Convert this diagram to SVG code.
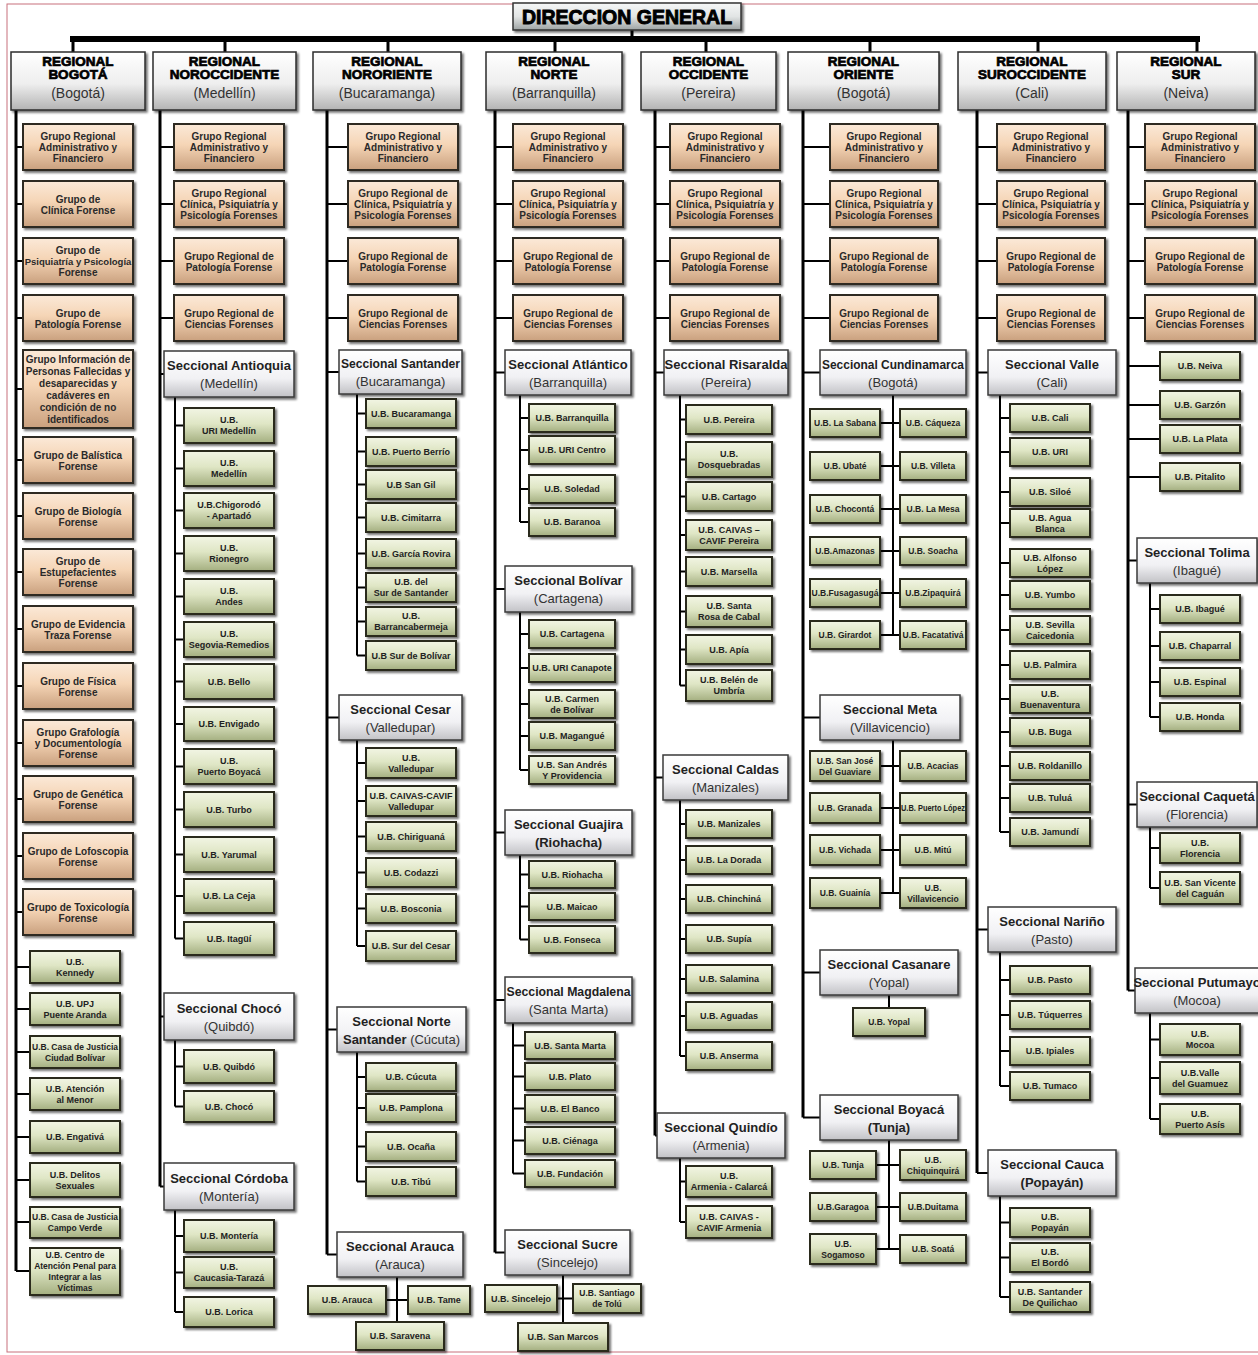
<svg xmlns="http://www.w3.org/2000/svg" width="1258" height="1355" viewBox="0 0 1258 1355">
<defs>
<linearGradient id="gReg" x1="0" y1="0" x2="0" y2="1"><stop offset="0" stop-color="#ffffff"/><stop offset="0.55" stop-color="#eeeeee"/><stop offset="1" stop-color="#b3b3b3"/></linearGradient>
<linearGradient id="gSec" x1="0" y1="0" x2="0" y2="1"><stop offset="0" stop-color="#ffffff"/><stop offset="0.6" stop-color="#f1f1f4"/><stop offset="1" stop-color="#c2c2c6"/></linearGradient>
<linearGradient id="gOr" x1="0" y1="0" x2="0" y2="1"><stop offset="0" stop-color="#fbe9d8"/><stop offset="0.45" stop-color="#f5d5b6"/><stop offset="1" stop-color="#c9a07e"/></linearGradient>
<linearGradient id="gUb" x1="0" y1="0" x2="0" y2="1"><stop offset="0" stop-color="#f2f5e4"/><stop offset="0.45" stop-color="#dfe6c5"/><stop offset="1" stop-color="#a4af80"/></linearGradient>
<linearGradient id="gDg" x1="0" y1="0" x2="0" y2="1"><stop offset="0" stop-color="#f6f7f7"/><stop offset="0.5" stop-color="#e2e5e5"/><stop offset="1" stop-color="#9ea4a4"/></linearGradient>
<filter id="sh" x="-10%" y="-15%" width="130%" height="150%"><feDropShadow dx="2" dy="2" stdDeviation="1" flood-color="#000" flood-opacity="0.55"/></filter>
<style>
.ln{stroke:#000;fill:none;stroke-width:2}
.tk{stroke:#000;fill:none;stroke-width:3}
.bar{stroke:#000;fill:none;stroke-width:6}
.reg{fill:url(#gReg);stroke:#2b2b2b;stroke-width:1.5;filter:url(#sh)}
.sec{fill:url(#gSec);stroke:#3a3a3a;stroke-width:1.5;filter:url(#sh)}
.or{fill:url(#gOr);stroke:#2e2a22;stroke-width:2;filter:url(#sh)}
.ub{fill:url(#gUb);stroke:#2a2c1e;stroke-width:2;filter:url(#sh)}
.dg{fill:url(#gDg);stroke:#333;stroke-width:1.5;filter:url(#sh)}
text{font-family:"Liberation Sans",Arial,sans-serif;text-anchor:middle;dominant-baseline:central}
.to{font-size:10px;font-weight:bold;fill:#2a2a2a}
.tu{font-size:9px;font-weight:bold;fill:#222}
.sm{font-size:8.5px}
.ts{font-size:13px;font-weight:bold;fill:#222}
.tc{font-weight:normal;fill:#333}
.tr{font-size:13.5px;font-weight:bold;fill:#000;stroke:#000;stroke-width:0.7}
.trc{font-size:14px;fill:#333}
.tdg{font-size:19.5px;font-weight:bold;fill:#000;stroke:#000;stroke-width:0.9}
</style>
</defs>
<rect x="0" y="0" width="1258" height="1355" fill="#ffffff"/>
<rect x="7" y="4" width="1262" height="1348" fill="none" stroke="#c8707c" stroke-width="1"/>

<g id="connectors">
<path class="bar" d="M70 39H1200"/>
<path class="tk" d="M632 30V39 M73 39V52 M225 39V52 M388 39V52 M555 39V52 M706 39V52 M870 39V52 M1038 39V52 M1197 39V52"/>
<!-- Bogota -->
<path class="tk" d="M16 110V1271"/>
<path class="ln" d="M16 147H23 M16 204H23 M16 261H23 M16 318H23 M16 389H23 M16 460H23 M16 516H23 M16 572H23 M16 629H23 M16 686H23 M16 743H23 M16 799H23 M16 856H23 M16 912H23 M16 967H30 M16 1009H30 M16 1052H30 M16 1094H30 M16 1137H30 M16 1180H30 M16 1222H30 M16 1271H30"/>
<!-- Noroccidente -->
<path class="tk" d="M160 110V1186.5"/>
<path class="ln" d="M160 147H174 M160 204H174 M160 261H174 M160 318H174 M160 374H164 M160 1016.5H164 M160 1186.5H164"/>
<path class="ln" d="M175 397V938.5 M175 425.5H184 M175 468.5H184 M175 510.5H184 M175 553.5H184 M175 596.5H184 M175 639.5H184 M175 681.5H184 M175 724H184 M175 766.5H184 M175 809.5H184 M175 854.5H184 M175 896H184 M175 938.5H184"/>
<path class="ln" d="M175 1040V1106.5 M175 1066.5H184 M175 1106.5H184 M175 1210V1312 M175 1236H184 M175 1272.5H184 M175 1312H184"/>
<!-- Nororiente -->
<path class="tk" d="M327 110V1254.5"/>
<path class="ln" d="M327 147H348 M327 204H348 M327 261H348 M327 318H348 M327 372H339 M327 717.5H339 M327 1029.5H337 M327 1254.5H337"/>
<path class="ln" d="M357 394V655.5 M357 413.5H366 M357 451.5H366 M357 484.5H366 M357 517.5H366 M357 553.5H366 M357 587.5H366 M357 621.5H366 M357 655.5H366"/>
<path class="ln" d="M357 740V946 M357 763H366 M357 801H366 M357 836.5H366 M357 872.5H366 M357 908.5H366 M357 946H366"/>
<path class="ln" d="M357 1052V1181.5 M357 1077H366 M357 1108H366 M357 1146.5H366 M357 1181.5H366"/>
<path class="ln" d="M397 1277V1322 M386 1300H408"/>
<!-- Norte -->
<path class="tk" d="M495 110V1252.5"/>
<path class="ln" d="M495 147H513 M495 204H513 M495 261H513 M495 318H513 M495 372.5H505 M495 589H505 M495 832.5H505 M495 1000H505 M495 1252.5H505"/>
<path class="ln" d="M520 395V522 M520 418H529 M520 450H529 M520 489H529 M520 522H529"/>
<path class="ln" d="M520 612V770 M520 634H529 M520 668H529 M520 704H529 M520 736H529 M520 770H529"/>
<path class="ln" d="M520 855V939.5 M520 874.5H529 M520 906.5H529 M520 939.5H529"/>
<path class="ln" d="M513 1023V1173.5 M513 1045.5H525 M513 1076.5H525 M513 1108.5H525 M513 1140.5H525 M513 1173.5H525"/>
<path class="ln" d="M563 1275V1323 M557 1298.5H573"/>
<!-- Occidente -->
<path class="tk" d="M655 110V1135.5"/>
<path class="ln" d="M655 147H670 M655 204H670 M655 261H670 M655 318H670 M655 372.5H664 M655 777.5H663 M655 1135.5H657"/>
<path class="ln" d="M680 395V685.5 M680 419.5H686 M680 459.5H686 M680 496.5H686 M680 535H686 M680 571.5H686 M680 611.5H686 M680 649.5H686 M680 685.5H686"/>
<path class="ln" d="M680 800V1056 M680 824H686 M680 860H686 M680 899H686 M680 939H686 M680 979H686 M680 1016H686 M680 1056H686"/>
<path class="ln" d="M680 1158V1222 M680 1181.5H686 M680 1222H686"/>
<!-- Oriente -->
<path class="tk" d="M803 110V1117.5"/>
<path class="ln" d="M803 147H830 M803 204H830 M803 261H830 M803 318H830 M803 372.5H820 M803 717.5H820 M803 972.5H820 M803 1117.5H820"/>
<path class="ln" d="M893 395V635 M880 423H900 M880 466H900 M880 509H900 M880 551H900 M880 593H900 M880 635H900"/>
<path class="ln" d="M893 740V893 M880 766H900 M880 808H900 M880 850H900 M880 893H900"/>
<path class="ln" d="M889 995V1008"/>
<path class="ln" d="M889 1140V1249 M876 1165H900 M876 1207H900 M876 1249H900"/>
<!-- Suroccidente -->
<path class="tk" d="M977 110V1173"/>
<path class="ln" d="M977 147H997 M977 204H997 M977 261H997 M977 318H997 M977 372.5H988 M977 929.5H988 M977 1173H988"/>
<path class="ln" d="M1000 395V832 M1000 418H1010 M1000 452H1010 M1000 492H1010 M1000 523H1010 M1000 563H1010 M1000 595H1010 M1000 630H1010 M1000 665H1010 M1000 699H1010 M1000 732H1010 M1000 766H1010 M1000 798H1010 M1000 832H1010"/>
<path class="ln" d="M1000 952V1086 M1000 980H1010 M1000 1015H1010 M1000 1051H1010 M1000 1086H1010"/>
<path class="ln" d="M1000 1196V1297 M1000 1222.5H1010 M1000 1257.5H1010 M1000 1297H1010"/>
<!-- Sur -->
<path class="tk" d="M1128 110V990.5"/>
<path class="ln" d="M1128 147H1145 M1128 204H1145 M1128 261H1145 M1128 318H1145 M1128 366H1160 M1128 405H1160 M1128 439H1160 M1128 477H1160 M1128 560.5H1137 M1128 804.5H1137 M1128 990.5H1137"/>
<path class="ln" d="M1150 583V717 M1150 609H1160 M1150 646H1160 M1150 682H1160 M1150 717H1160"/>
<path class="ln" d="M1150 827V888 M1150 848H1160 M1150 888H1160"/>
<path class="ln" d="M1150 1013V1119 M1150 1039.5H1160 M1150 1078H1160 M1150 1119H1160"/>
</g>

<g id="n-dg"><rect class="dg" x="513" y="3" width="228" height="27"/><text class="tdg" x="627" y="17">DIRECCION GENERAL</text></g>

<g id="n-r-bog"><rect class="reg" x="11" y="52" width="134" height="58"/><text class="tr"><tspan x="78" y="61">REGIONAL</tspan><tspan x="78" y="74">BOGOTÁ</tspan></text><text class="trc" x="78" y="93">(Bogotá)</text></g>
<g id="n-r-noc"><rect class="reg" x="153" y="52" width="143" height="58"/><text class="tr"><tspan x="224.5" y="61">REGIONAL</tspan><tspan x="224.5" y="74">NOROCCIDENTE</tspan></text><text class="trc" x="224.5" y="93">(Medellín)</text></g>
<g id="n-r-nor"><rect class="reg" x="313" y="52" width="148" height="58"/><text class="tr"><tspan x="387" y="61">REGIONAL</tspan><tspan x="387" y="74">NORORIENTE</tspan></text><text class="trc" x="387" y="93">(Bucaramanga)</text></g>
<g id="n-r-nte"><rect class="reg" x="486" y="52" width="136" height="58"/><text class="tr"><tspan x="554" y="61">REGIONAL</tspan><tspan x="554" y="74">NORTE</tspan></text><text class="trc" x="554" y="93">(Barranquilla)</text></g>
<g id="n-r-occ"><rect class="reg" x="641" y="52" width="135" height="58"/><text class="tr"><tspan x="708.5" y="61">REGIONAL</tspan><tspan x="708.5" y="74">OCCIDENTE</tspan></text><text class="trc" x="708.5" y="93">(Pereira)</text></g>
<g id="n-r-ori"><rect class="reg" x="788" y="52" width="151" height="58"/><text class="tr"><tspan x="863.5" y="61">REGIONAL</tspan><tspan x="863.5" y="74">ORIENTE</tspan></text><text class="trc" x="863.5" y="93">(Bogotá)</text></g>
<g id="n-r-soc"><rect class="reg" x="958" y="52" width="148" height="58"/><text class="tr"><tspan x="1032" y="61">REGIONAL</tspan><tspan x="1032" y="74">SUROCCIDENTE</tspan></text><text class="trc" x="1032" y="93">(Cali)</text></g>
<g id="n-r-sur"><rect class="reg" x="1117" y="52" width="138" height="58"/><text class="tr"><tspan x="1186" y="61">REGIONAL</tspan><tspan x="1186" y="74">SUR</tspan></text><text class="trc" x="1186" y="93">(Neiva)</text></g>

<!-- Bogota groups -->
<g id="bog-g1"><rect class="or" x="23" y="124" width="110" height="46"/><text class="to"><tspan x="78" y="136">Grupo Regional</tspan><tspan x="78" y="147">Administrativo y</tspan><tspan x="78" y="158">Financiero</tspan></text></g>
<g id="bog-g2"><rect class="or" x="23" y="181" width="110" height="46"/><text class="to"><tspan x="78" y="198.5">Grupo de</tspan><tspan x="78" y="209.5">Clínica Forense</tspan></text></g>
<g id="bog-g3"><rect class="or" x="23" y="238" width="110" height="46"/><text class="to"><tspan x="78" y="250">Grupo de</tspan><tspan x="78" y="261" font-size="9.5">Psiquiatría y Psicología</tspan><tspan x="78" y="272">Forense</tspan></text></g>
<g id="bog-g4"><rect class="or" x="23" y="295" width="110" height="46"/><text class="to"><tspan x="78" y="312.5">Grupo de</tspan><tspan x="78" y="323.5">Patología Forense</tspan></text></g>
<g id="bog-g5"><rect class="or" x="23" y="350" width="110" height="78"/><text class="to" font-size="10.5"><tspan x="78" y="359">Grupo Información de</tspan><tspan x="78" y="371">Personas Fallecidas y</tspan><tspan x="78" y="383">desaparecidas y</tspan><tspan x="78" y="395">cadáveres en</tspan><tspan x="78" y="407">condición de no</tspan><tspan x="78" y="419">identificados</tspan></text></g>
<g id="bog-g6"><rect class="or" x="23" y="437" width="110" height="46"/><text class="to"><tspan x="78" y="454.5">Grupo de Balística</tspan><tspan x="78" y="465.5">Forense</tspan></text></g>
<g id="bog-g7"><rect class="or" x="23" y="493" width="110" height="46"/><text class="to"><tspan x="78" y="510.5">Grupo de Biología</tspan><tspan x="78" y="521.5">Forense</tspan></text></g>
<g id="bog-g8"><rect class="or" x="23" y="549" width="110" height="46"/><text class="to"><tspan x="78" y="561">Grupo de</tspan><tspan x="78" y="572">Estupefacientes</tspan><tspan x="78" y="583">Forense</tspan></text></g>
<g id="bog-g9"><rect class="or" x="23" y="606" width="110" height="46"/><text class="to"><tspan x="78" y="623.5">Grupo de Evidencia</tspan><tspan x="78" y="634.5">Traza Forense</tspan></text></g>
<g id="bog-g10"><rect class="or" x="23" y="663" width="110" height="46"/><text class="to"><tspan x="78" y="680.5">Grupo de Física</tspan><tspan x="78" y="691.5">Forense</tspan></text></g>
<g id="bog-g11"><rect class="or" x="23" y="720" width="110" height="46"/><text class="to"><tspan x="78" y="732">Grupo Grafología</tspan><tspan x="78" y="743">y Documentología</tspan><tspan x="78" y="754">Forense</tspan></text></g>
<g id="bog-g12"><rect class="or" x="23" y="776" width="110" height="46"/><text class="to"><tspan x="78" y="793.5">Grupo de Genética</tspan><tspan x="78" y="804.5">Forense</tspan></text></g>
<g id="bog-g13"><rect class="or" x="23" y="833" width="110" height="46"/><text class="to"><tspan x="78" y="850.5">Grupo de Lofoscopia</tspan><tspan x="78" y="861.5">Forense</tspan></text></g>
<g id="bog-g14"><rect class="or" x="23" y="889" width="110" height="46"/><text class="to"><tspan x="78" y="906.5">Grupo de Toxicología</tspan><tspan x="78" y="917.5">Forense</tspan></text></g>
<g id="bog-u1"><rect class="ub" x="30" y="951" width="90" height="32"/><text class="tu"><tspan x="75" y="961.5">U.B.</tspan><tspan x="75" y="972.5">Kennedy</tspan></text></g>
<g id="bog-u2"><rect class="ub" x="30" y="993" width="90" height="32"/><text class="tu"><tspan x="75" y="1003.5">U.B. UPJ</tspan><tspan x="75" y="1014.5">Puente Aranda</tspan></text></g>
<g id="bog-u3"><rect class="ub" x="30" y="1036" width="90" height="32"/><text class="tu sm"><tspan x="75" y="1046.5">U.B. Casa de Justicia</tspan><tspan x="75" y="1057.5">Ciudad Bolívar</tspan></text></g>
<g id="bog-u4"><rect class="ub" x="30" y="1078" width="90" height="32"/><text class="tu"><tspan x="75" y="1088.5">U.B. Atención</tspan><tspan x="75" y="1099.5">al Menor</tspan></text></g>
<g id="bog-u5"><rect class="ub" x="30" y="1121" width="90" height="32"/><text class="tu" x="75" y="1137">U.B. Engativá</text></g>
<g id="bog-u6"><rect class="ub" x="30" y="1163" width="90" height="34"/><text class="tu"><tspan x="75" y="1174.5">U.B. Delitos</tspan><tspan x="75" y="1185.5">Sexuales</tspan></text></g>
<g id="bog-u7"><rect class="ub" x="30" y="1207" width="90" height="31"/><text class="tu sm"><tspan x="75" y="1217">U.B. Casa de Justicia</tspan><tspan x="75" y="1228">Campo Verde</tspan></text></g>
<g id="bog-u8"><rect class="ub" x="30" y="1248" width="90" height="47"/><text class="tu sm"><tspan x="75" y="1255">U.B. Centro de</tspan><tspan x="75" y="1266">Atención Penal para</tspan><tspan x="75" y="1277">Integrar a las</tspan><tspan x="75" y="1288">Víctimas</tspan></text></g>

<!-- Noroccidente -->
<g id="noc-g1"><rect class="or" x="174" y="124" width="110" height="46"/><text class="to"><tspan x="229" y="136">Grupo Regional</tspan><tspan x="229" y="147">Administrativo y</tspan><tspan x="229" y="158">Financiero</tspan></text></g>
<g id="noc-g2"><rect class="or" x="174" y="181" width="110" height="46"/><text class="to"><tspan x="229" y="193">Grupo Regional</tspan><tspan x="229" y="204">Clínica, Psiquiatría y</tspan><tspan x="229" y="215">Psicología Forenses</tspan></text></g>
<g id="noc-g3"><rect class="or" x="174" y="238" width="110" height="46"/><text class="to"><tspan x="229" y="255.5">Grupo Regional de</tspan><tspan x="229" y="266.5">Patología Forense</tspan></text></g>
<g id="noc-g4"><rect class="or" x="174" y="295" width="110" height="46"/><text class="to"><tspan x="229" y="312.5">Grupo Regional de</tspan><tspan x="229" y="323.5">Ciencias Forenses</tspan></text></g>
<g id="noc-s1"><rect class="sec" x="164" y="351" width="130" height="46"/><text class="ts"><tspan x="229" y="365">Seccional Antioquia</tspan><tspan class="tc" x="229" y="383">(Medellín)</tspan></text></g>
<g id="noc-u1"><rect class="ub" x="184" y="408" width="90" height="35"/><text class="tu"><tspan x="229" y="420">U.B.</tspan><tspan x="229" y="431">URI Medellín</tspan></text></g>
<g id="noc-u2"><rect class="ub" x="184" y="451" width="90" height="35"/><text class="tu"><tspan x="229" y="463">U.B.</tspan><tspan x="229" y="474">Medellín</tspan></text></g>
<g id="noc-u3"><rect class="ub" x="184" y="493" width="90" height="35"/><text class="tu"><tspan x="229" y="505">U.B.Chigorodó</tspan><tspan x="229" y="516">- Apartadó</tspan></text></g>
<g id="noc-u4"><rect class="ub" x="184" y="536" width="90" height="35"/><text class="tu"><tspan x="229" y="548">U.B.</tspan><tspan x="229" y="559">Rionegro</tspan></text></g>
<g id="noc-u5"><rect class="ub" x="184" y="579" width="90" height="35"/><text class="tu"><tspan x="229" y="591">U.B.</tspan><tspan x="229" y="602">Andes</tspan></text></g>
<g id="noc-u6"><rect class="ub" x="184" y="622" width="90" height="35"/><text class="tu"><tspan x="229" y="634">U.B.</tspan><tspan x="229" y="645">Segovia-Remedios</tspan></text></g>
<g id="noc-u7"><rect class="ub" x="184" y="664" width="90" height="35"/><text class="tu" x="229" y="681.5">U.B. Bello</text></g>
<g id="noc-u8"><rect class="ub" x="184" y="707" width="90" height="34"/><text class="tu" x="229" y="724">U.B. Envigado</text></g>
<g id="noc-u9"><rect class="ub" x="184" y="749" width="90" height="35"/><text class="tu"><tspan x="229" y="761">U.B.</tspan><tspan x="229" y="772">Puerto Boyacá</tspan></text></g>
<g id="noc-u10"><rect class="ub" x="184" y="792" width="90" height="35"/><text class="tu" x="229" y="809.5">U.B. Turbo</text></g>
<g id="noc-u11"><rect class="ub" x="184" y="837" width="90" height="35"/><text class="tu" x="229" y="854.5">U.B. Yarumal</text></g>
<g id="noc-u12"><rect class="ub" x="184" y="879" width="90" height="34"/><text class="tu" x="229" y="896">U.B. La Ceja</text></g>
<g id="noc-u13"><rect class="ub" x="184" y="922" width="90" height="33"/><text class="tu" x="229" y="938.5">U.B. Itagüí</text></g>
<g id="noc-s2"><rect class="sec" x="164" y="993" width="130" height="47"/><text class="ts"><tspan x="229" y="1007.5">Seccional Chocó</tspan><tspan class="tc" x="229" y="1025.5">(Quibdó)</tspan></text></g>
<g id="noc-u14"><rect class="ub" x="184" y="1050" width="90" height="33"/><text class="tu" x="229" y="1066.5">U.B. Quibdó</text></g>
<g id="noc-u15"><rect class="ub" x="184" y="1091" width="90" height="31"/><text class="tu" x="229" y="1106.5">U.B. Chocó</text></g>
<g id="noc-s3"><rect class="sec" x="164" y="1163" width="130" height="47"/><text class="ts"><tspan x="229" y="1177.5">Seccional Córdoba</tspan><tspan class="tc" x="229" y="1195.5">(Montería)</tspan></text></g>
<g id="noc-u16"><rect class="ub" x="184" y="1220" width="90" height="32"/><text class="tu" x="229" y="1236">U.B. Montería</text></g>
<g id="noc-u17"><rect class="ub" x="184" y="1257" width="90" height="31"/><text class="tu"><tspan x="229" y="1267">U.B.</tspan><tspan x="229" y="1278">Caucasia-Tarazá</tspan></text></g>
<g id="noc-u18"><rect class="ub" x="184" y="1297" width="90" height="30"/><text class="tu" x="229" y="1312">U.B. Lorica</text></g>

<!-- Nororiente -->
<g id="nor-g1"><rect class="or" x="348" y="124" width="110" height="46"/><text class="to"><tspan x="403" y="136">Grupo Regional</tspan><tspan x="403" y="147">Administrativo y</tspan><tspan x="403" y="158">Financiero</tspan></text></g>
<g id="nor-g2"><rect class="or" x="348" y="181" width="110" height="46"/><text class="to"><tspan x="403" y="193">Grupo Regional de</tspan><tspan x="403" y="204">Clínica, Psiquiatría y</tspan><tspan x="403" y="215">Psicología Forenses</tspan></text></g>
<g id="nor-g3"><rect class="or" x="348" y="238" width="110" height="46"/><text class="to"><tspan x="403" y="255.5">Grupo Regional de</tspan><tspan x="403" y="266.5">Patología Forense</tspan></text></g>
<g id="nor-g4"><rect class="or" x="348" y="295" width="110" height="46"/><text class="to"><tspan x="403" y="312.5">Grupo Regional de</tspan><tspan x="403" y="323.5">Ciencias Forenses</tspan></text></g>
<g id="nor-s1"><rect class="sec" x="339" y="350" width="123" height="44"/><text class="ts"><tspan x="400.5" y="363" textLength="119" lengthAdjust="spacingAndGlyphs">Seccional Santander</tspan><tspan class="tc" x="400.5" y="381">(Bucaramanga)</tspan></text></g>
<g id="nor-u1"><rect class="ub" x="366" y="399" width="90" height="29"/><text class="tu" x="411" y="413.5">U.B. Bucaramanga</text></g>
<g id="nor-u2"><rect class="ub" x="366" y="437" width="90" height="29"/><text class="tu" x="411" y="451.5">U.B. Puerto Berrío</text></g>
<g id="nor-u3"><rect class="ub" x="366" y="470" width="90" height="29"/><text class="tu" x="411" y="484.5">U.B San Gil</text></g>
<g id="nor-u4"><rect class="ub" x="366" y="503" width="90" height="29"/><text class="tu" x="411" y="517.5">U.B. Cimitarra</text></g>
<g id="nor-u5"><rect class="ub" x="366" y="539" width="90" height="29"/><text class="tu" x="411" y="553.5">U.B. García Rovira</text></g>
<g id="nor-u6"><rect class="ub" x="366" y="573" width="90" height="29"/><text class="tu"><tspan x="411" y="582">U.B. del</tspan><tspan x="411" y="593">Sur de Santander</tspan></text></g>
<g id="nor-u7"><rect class="ub" x="366" y="607" width="90" height="29"/><text class="tu"><tspan x="411" y="616">U.B.</tspan><tspan x="411" y="627">Barrancabermeja</tspan></text></g>
<g id="nor-u8"><rect class="ub" x="366" y="641" width="90" height="29"/><text class="tu" x="411" y="655.5">U.B Sur de Bolívar</text></g>
<g id="nor-s2"><rect class="sec" x="339" y="695" width="123" height="45"/><text class="ts"><tspan x="400.5" y="708.5">Seccional Cesar</tspan><tspan class="tc" x="400.5" y="726.5">(Valledupar)</tspan></text></g>
<g id="nor-u9"><rect class="ub" x="366" y="748" width="90" height="30"/><text class="tu"><tspan x="411" y="757.5">U.B.</tspan><tspan x="411" y="768.5">Valledupar</tspan></text></g>
<g id="nor-u10"><rect class="ub" x="366" y="786" width="90" height="30"/><text class="tu"><tspan x="411" y="795.5">U.B. CAIVAS-CAVIF</tspan><tspan x="411" y="806.5">Valledupar</tspan></text></g>
<g id="nor-u11"><rect class="ub" x="366" y="822" width="90" height="29"/><text class="tu" x="411" y="836.5">U.B. Chiriguaná</text></g>
<g id="nor-u12"><rect class="ub" x="366" y="858" width="90" height="29"/><text class="tu" x="411" y="872.5">U.B. Codazzi</text></g>
<g id="nor-u13"><rect class="ub" x="366" y="894" width="90" height="29"/><text class="tu" x="411" y="908.5">U.B. Bosconia</text></g>
<g id="nor-u14"><rect class="ub" x="366" y="931" width="90" height="30"/><text class="tu" x="411" y="946">U.B. Sur del Cesar</text></g>
<g id="nor-s3"><rect class="sec" x="337" y="1007" width="129" height="45"/><text class="ts"><tspan x="401.5" y="1020.5">Seccional Norte</tspan><tspan x="401.5" y="1038.5">Santander <tspan class="tc">(Cúcuta)</tspan></tspan></text></g>
<g id="nor-u15"><rect class="ub" x="366" y="1063" width="90" height="28"/><text class="tu" x="411" y="1077">U.B. Cúcuta</text></g>
<g id="nor-u16"><rect class="ub" x="366" y="1094" width="90" height="28"/><text class="tu" x="411" y="1108">U.B. Pamplona</text></g>
<g id="nor-u17"><rect class="ub" x="366" y="1132" width="90" height="29"/><text class="tu" x="411" y="1146.5">U.B. Ocaña</text></g>
<g id="nor-u18"><rect class="ub" x="366" y="1167" width="90" height="29"/><text class="tu" x="411" y="1181.5">U.B. Tibú</text></g>
<g id="nor-s4"><rect class="sec" x="337" y="1232" width="126" height="45"/><text class="ts"><tspan x="400" y="1245.5">Seccional Arauca</tspan><tspan class="tc" x="400" y="1263.5">(Arauca)</tspan></text></g>
<g id="nor-u19"><rect class="ub" x="308" y="1286" width="78" height="28"/><text class="tu" x="347" y="1300">U.B. Arauca</text></g>
<g id="nor-u20"><rect class="ub" x="408" y="1286" width="62" height="28"/><text class="tu" x="439" y="1300">U.B. Tame</text></g>
<g id="nor-u21"><rect class="ub" x="356" y="1322" width="88" height="28"/><text class="tu" x="400" y="1336">U.B. Saravena</text></g>

<!-- Norte -->
<g id="nte-g1"><rect class="or" x="513" y="124" width="110" height="46"/><text class="to"><tspan x="568" y="136">Grupo Regional</tspan><tspan x="568" y="147">Administrativo y</tspan><tspan x="568" y="158">Financiero</tspan></text></g>
<g id="nte-g2"><rect class="or" x="513" y="181" width="110" height="46"/><text class="to"><tspan x="568" y="193">Grupo Regional</tspan><tspan x="568" y="204">Clínica, Psiquiatría y</tspan><tspan x="568" y="215">Psicología Forenses</tspan></text></g>
<g id="nte-g3"><rect class="or" x="513" y="238" width="110" height="46"/><text class="to"><tspan x="568" y="255.5">Grupo Regional de</tspan><tspan x="568" y="266.5">Patología Forense</tspan></text></g>
<g id="nte-g4"><rect class="or" x="513" y="295" width="110" height="46"/><text class="to"><tspan x="568" y="312.5">Grupo Regional de</tspan><tspan x="568" y="323.5">Ciencias Forenses</tspan></text></g>
<g id="nte-s1"><rect class="sec" x="505" y="350" width="126" height="45"/><text class="ts"><tspan x="568" y="363.5">Seccional Atlántico</tspan><tspan class="tc" x="568" y="381.5">(Barranquilla)</tspan></text></g>
<g id="nte-u1"><rect class="ub" x="529" y="404" width="86" height="28"/><text class="tu" x="572" y="418">U.B. Barranquilla</text></g>
<g id="nte-u2"><rect class="ub" x="529" y="436" width="86" height="28"/><text class="tu" x="572" y="450">U.B. URI Centro</text></g>
<g id="nte-u3"><rect class="ub" x="529" y="475" width="86" height="28"/><text class="tu" x="572" y="489">U.B. Soledad</text></g>
<g id="nte-u4"><rect class="ub" x="529" y="508" width="86" height="28"/><text class="tu" x="572" y="522">U.B. Baranoa</text></g>
<g id="nte-s2"><rect class="sec" x="505" y="566" width="127" height="46"/><text class="ts"><tspan x="568.5" y="580">Seccional Bolívar</tspan><tspan class="tc" x="568.5" y="598">(Cartagena)</tspan></text></g>
<g id="nte-u5"><rect class="ub" x="529" y="620" width="86" height="28"/><text class="tu" x="572" y="634">U.B. Cartagena</text></g>
<g id="nte-u6"><rect class="ub" x="529" y="654" width="86" height="28"/><text class="tu" x="572" y="668">U.B. URI Canapote</text></g>
<g id="nte-u7"><rect class="ub" x="529" y="690" width="86" height="28"/><text class="tu"><tspan x="572" y="698.5">U.B. Carmen</tspan><tspan x="572" y="709.5">de Bolívar</tspan></text></g>
<g id="nte-u8"><rect class="ub" x="529" y="722" width="86" height="28"/><text class="tu" x="572" y="736">U.B. Magangué</text></g>
<g id="nte-u9"><rect class="ub" x="529" y="756" width="86" height="28"/><text class="tu"><tspan x="572" y="764.5">U.B. San Andrés</tspan><tspan x="572" y="775.5">Y Providencia</tspan></text></g>
<g id="nte-s3"><rect class="sec" x="505" y="810" width="127" height="45"/><text class="ts"><tspan x="568.5" y="823.5">Seccional Guajira</tspan><tspan x="568.5" y="841.5">(Riohacha)</tspan></text></g>
<g id="nte-u10"><rect class="ub" x="529" y="861" width="86" height="27"/><text class="tu" x="572" y="874.5">U.B. Riohacha</text></g>
<g id="nte-u11"><rect class="ub" x="529" y="893" width="86" height="27"/><text class="tu" x="572" y="906.5">U.B. Maicao</text></g>
<g id="nte-u12"><rect class="ub" x="529" y="926" width="86" height="27"/><text class="tu" x="572" y="939.5">U.B. Fonseca</text></g>
<g id="nte-s4"><rect class="sec" x="505" y="977" width="127" height="46"/><text class="ts"><tspan x="568.5" y="991" textLength="124" lengthAdjust="spacingAndGlyphs">Seccional Magdalena</tspan><tspan class="tc" x="568.5" y="1009">(Santa Marta)</tspan></text></g>
<g id="nte-u13"><rect class="ub" x="525" y="1032" width="90" height="27"/><text class="tu" x="570" y="1045.5">U.B. Santa Marta</text></g>
<g id="nte-u14"><rect class="ub" x="525" y="1063" width="90" height="27"/><text class="tu" x="570" y="1076.5">U.B. Plato</text></g>
<g id="nte-u15"><rect class="ub" x="525" y="1095" width="90" height="27"/><text class="tu" x="570" y="1108.5">U.B. El Banco</text></g>
<g id="nte-u16"><rect class="ub" x="525" y="1127" width="90" height="27"/><text class="tu" x="570" y="1140.5">U.B. Ciénaga</text></g>
<g id="nte-u17"><rect class="ub" x="525" y="1160" width="90" height="27"/><text class="tu" x="570" y="1173.5">U.B. Fundación</text></g>
<g id="nte-s5"><rect class="sec" x="505" y="1230" width="125" height="45"/><text class="ts"><tspan x="567.5" y="1243.5">Seccional Sucre</tspan><tspan class="tc" x="567.5" y="1261.5">(Sincelejo)</tspan></text></g>
<g id="nte-u18"><rect class="ub" x="485" y="1285" width="72" height="27"/><text class="tu" x="521" y="1298.5">U.B. Sincelejo</text></g>
<g id="nte-u19"><rect class="ub" x="573" y="1284" width="68" height="29"/><text class="tu sm"><tspan x="607" y="1293">U.B. Santiago</tspan><tspan x="607" y="1304">de Tolú</tspan></text></g>
<g id="nte-u20"><rect class="ub" x="518" y="1323" width="90" height="28"/><text class="tu" x="563" y="1337">U.B. San Marcos</text></g>

<!-- Occidente -->
<g id="occ-g1"><rect class="or" x="670" y="124" width="110" height="46"/><text class="to"><tspan x="725" y="136">Grupo Regional</tspan><tspan x="725" y="147">Administrativo y</tspan><tspan x="725" y="158">Financiero</tspan></text></g>
<g id="occ-g2"><rect class="or" x="670" y="181" width="110" height="46"/><text class="to"><tspan x="725" y="193">Grupo Regional</tspan><tspan x="725" y="204">Clínica, Psiquiatría y</tspan><tspan x="725" y="215">Psicología Forenses</tspan></text></g>
<g id="occ-g3"><rect class="or" x="670" y="238" width="110" height="46"/><text class="to"><tspan x="725" y="255.5">Grupo Regional de</tspan><tspan x="725" y="266.5">Patología Forense</tspan></text></g>
<g id="occ-g4"><rect class="or" x="670" y="295" width="110" height="46"/><text class="to"><tspan x="725" y="312.5">Grupo Regional de</tspan><tspan x="725" y="323.5">Ciencias Forenses</tspan></text></g>
<g id="occ-s1"><rect class="sec" x="664" y="350" width="124" height="45"/><text class="ts"><tspan x="726" y="363.5">Seccional Risaralda</tspan><tspan class="tc" x="726" y="381.5">(Pereira)</tspan></text></g>
<g id="occ-u1"><rect class="ub" x="686" y="405" width="86" height="29"/><text class="tu" x="729" y="419.5">U.B. Pereira</text></g>
<g id="occ-u2"><rect class="ub" x="686" y="442" width="86" height="35"/><text class="tu"><tspan x="729" y="454">U.B.</tspan><tspan x="729" y="465">Dosquebradas</tspan></text></g>
<g id="occ-u3"><rect class="ub" x="686" y="482" width="86" height="29"/><text class="tu" x="729" y="496.5">U.B. Cartago</text></g>
<g id="occ-u4"><rect class="ub" x="686" y="520" width="86" height="30"/><text class="tu"><tspan x="729" y="529.5">U.B. CAIVAS –</tspan><tspan x="729" y="540.5">CAVIF Pereira</tspan></text></g>
<g id="occ-u5"><rect class="ub" x="686" y="557" width="86" height="29"/><text class="tu" x="729" y="571.5">U.B. Marsella</text></g>
<g id="occ-u6"><rect class="ub" x="686" y="596" width="86" height="31"/><text class="tu"><tspan x="729" y="606">U.B. Santa</tspan><tspan x="729" y="617">Rosa de Cabal</tspan></text></g>
<g id="occ-u7"><rect class="ub" x="686" y="635" width="86" height="29"/><text class="tu" x="729" y="649.5">U.B. Apía</text></g>
<g id="occ-u8"><rect class="ub" x="686" y="670" width="86" height="31"/><text class="tu"><tspan x="729" y="680">U.B. Belén de</tspan><tspan x="729" y="691">Umbría</tspan></text></g>
<g id="occ-s2"><rect class="sec" x="663" y="755" width="125" height="45"/><text class="ts"><tspan x="725.5" y="768.5">Seccional Caldas</tspan><tspan class="tc" x="725.5" y="786.5">(Manizales)</tspan></text></g>
<g id="occ-u9"><rect class="ub" x="686" y="810" width="86" height="28"/><text class="tu" x="729" y="824">U.B. Manizales</text></g>
<g id="occ-u10"><rect class="ub" x="686" y="846" width="86" height="28"/><text class="tu" x="729" y="860">U.B. La Dorada</text></g>
<g id="occ-u11"><rect class="ub" x="686" y="885" width="86" height="28"/><text class="tu" x="729" y="899">U.B. Chinchiná</text></g>
<g id="occ-u12"><rect class="ub" x="686" y="925" width="86" height="28"/><text class="tu" x="729" y="939">U.B. Supía</text></g>
<g id="occ-u13"><rect class="ub" x="686" y="965" width="86" height="28"/><text class="tu" x="729" y="979">U.B. Salamina</text></g>
<g id="occ-u14"><rect class="ub" x="686" y="1002" width="86" height="28"/><text class="tu" x="729" y="1016">U.B. Aguadas</text></g>
<g id="occ-u15"><rect class="ub" x="686" y="1042" width="86" height="28"/><text class="tu" x="729" y="1056">U.B. Anserma</text></g>
<g id="occ-s3"><rect class="sec" x="657" y="1113" width="128" height="45"/><text class="ts"><tspan x="721" y="1126.5">Seccional Quindío</tspan><tspan class="tc" x="721" y="1144.5">(Armenia)</tspan></text></g>
<g id="occ-u16"><rect class="ub" x="686" y="1166" width="86" height="31"/><text class="tu"><tspan x="729" y="1176">U.B.</tspan><tspan x="729" y="1187">Armenia - Calarcá</tspan></text></g>
<g id="occ-u17"><rect class="ub" x="686" y="1206" width="86" height="32"/><text class="tu"><tspan x="729" y="1216.5">U.B. CAIVAS -</tspan><tspan x="729" y="1227.5">CAVIF Armenia</tspan></text></g>

<!-- Oriente -->
<g id="ori-g1"><rect class="or" x="830" y="124" width="108" height="46"/><text class="to"><tspan x="884" y="136">Grupo Regional</tspan><tspan x="884" y="147">Administrativo y</tspan><tspan x="884" y="158">Financiero</tspan></text></g>
<g id="ori-g2"><rect class="or" x="830" y="181" width="108" height="46"/><text class="to"><tspan x="884" y="193">Grupo Regional</tspan><tspan x="884" y="204">Clínica, Psiquiatría y</tspan><tspan x="884" y="215">Psicología Forenses</tspan></text></g>
<g id="ori-g3"><rect class="or" x="830" y="238" width="108" height="46"/><text class="to"><tspan x="884" y="255.5">Grupo Regional de</tspan><tspan x="884" y="266.5">Patología Forense</tspan></text></g>
<g id="ori-g4"><rect class="or" x="830" y="295" width="108" height="46"/><text class="to"><tspan x="884" y="312.5">Grupo Regional de</tspan><tspan x="884" y="323.5">Ciencias Forenses</tspan></text></g>
<g id="ori-s1"><rect class="sec" x="820" y="350" width="146" height="45"/><text class="ts"><tspan x="893" y="363.5" textLength="142" lengthAdjust="spacingAndGlyphs">Seccional Cundinamarca</tspan><tspan class="tc" x="893" y="381.5">(Bogotá)</tspan></text></g>
<g id="ori-u1"><rect class="ub" x="810" y="409" width="70" height="28"/><text class="tu sm" x="845" y="423">U.B. La Sabana</text></g>
<g id="ori-u2"><rect class="ub" x="900" y="409" width="66" height="28"/><text class="tu sm" x="933" y="423">U.B. Cáqueza</text></g>
<g id="ori-u3"><rect class="ub" x="810" y="452" width="70" height="28"/><text class="tu sm" x="845" y="466">U.B. Ubaté</text></g>
<g id="ori-u4"><rect class="ub" x="900" y="452" width="66" height="28"/><text class="tu sm" x="933" y="466">U.B. Villeta</text></g>
<g id="ori-u5"><rect class="ub" x="810" y="495" width="70" height="28"/><text class="tu sm" x="845" y="509">U.B. Chocontá</text></g>
<g id="ori-u6"><rect class="ub" x="900" y="495" width="66" height="28"/><text class="tu sm" x="933" y="509">U.B. La Mesa</text></g>
<g id="ori-u7"><rect class="ub" x="810" y="537" width="70" height="28"/><text class="tu sm" x="845" y="551">U.B.Amazonas</text></g>
<g id="ori-u8"><rect class="ub" x="900" y="537" width="66" height="28"/><text class="tu sm" x="933" y="551">U.B. Soacha</text></g>
<g id="ori-u9"><rect class="ub" x="810" y="579" width="70" height="28"/><text class="tu sm" x="845" y="593" textLength="67" lengthAdjust="spacingAndGlyphs">U.B.Fusagasugá</text></g>
<g id="ori-u10"><rect class="ub" x="900" y="579" width="66" height="28"/><text class="tu sm" x="933" y="593">U.B.Zipaquirá</text></g>
<g id="ori-u11"><rect class="ub" x="810" y="621" width="70" height="28"/><text class="tu sm" x="845" y="635">U.B. Girardot</text></g>
<g id="ori-u12"><rect class="ub" x="900" y="621" width="66" height="28"/><text class="tu sm" x="933" y="635">U.B. Facatativá</text></g>
<g id="ori-s2"><rect class="sec" x="820" y="695" width="140" height="45"/><text class="ts"><tspan x="890" y="708.5">Seccional Meta</tspan><tspan class="tc" x="890" y="726.5">(Villavicencio)</tspan></text></g>
<g id="ori-u13"><rect class="ub" x="810" y="751" width="70" height="30"/><text class="tu sm"><tspan x="845" y="760.5">U.B. San José</tspan><tspan x="845" y="771.5">Del Guaviare</tspan></text></g>
<g id="ori-u14"><rect class="ub" x="900" y="751" width="66" height="30"/><text class="tu sm" x="933" y="766">U.B. Acacias</text></g>
<g id="ori-u15"><rect class="ub" x="810" y="793" width="70" height="30"/><text class="tu sm" x="845" y="808">U.B. Granada</text></g>
<g id="ori-u16"><rect class="ub" x="900" y="793" width="66" height="30"/><text class="tu sm" x="933" y="808" textLength="64" lengthAdjust="spacingAndGlyphs">U.B. Puerto López</text></g>
<g id="ori-u17"><rect class="ub" x="810" y="835" width="70" height="30"/><text class="tu sm" x="845" y="850">U.B. Vichada</text></g>
<g id="ori-u18"><rect class="ub" x="900" y="835" width="66" height="30"/><text class="tu sm" x="933" y="850">U.B. Mitú</text></g>
<g id="ori-u19"><rect class="ub" x="810" y="878" width="70" height="30"/><text class="tu sm" x="845" y="893">U.B. Guainía</text></g>
<g id="ori-u20"><rect class="ub" x="900" y="878" width="66" height="30"/><text class="tu sm"><tspan x="933" y="887.5">U.B.</tspan><tspan x="933" y="898.5">Villavicencio</tspan></text></g>
<g id="ori-s3"><rect class="sec" x="820" y="950" width="138" height="45"/><text class="ts"><tspan x="889" y="963.5">Seccional Casanare</tspan><tspan class="tc" x="889" y="981.5">(Yopal)</tspan></text></g>
<g id="ori-u21"><rect class="ub" x="853" y="1008" width="72" height="28"/><text class="tu sm" x="889" y="1022">U.B. Yopal</text></g>
<g id="ori-s4"><rect class="sec" x="820" y="1095" width="138" height="45"/><text class="ts"><tspan x="889" y="1108.5">Seccional Boyacá</tspan><tspan x="889" y="1126.5">(Tunja)</tspan></text></g>
<g id="ori-u22"><rect class="ub" x="810" y="1151" width="66" height="28"/><text class="tu sm" x="843" y="1165">U.B. Tunja</text></g>
<g id="ori-u23"><rect class="ub" x="900" y="1150" width="66" height="30"/><text class="tu sm"><tspan x="933" y="1159.5">U.B.</tspan><tspan x="933" y="1170.5">Chiquinquirá</tspan></text></g>
<g id="ori-u24"><rect class="ub" x="810" y="1193" width="66" height="28"/><text class="tu sm" x="843" y="1207">U.B.Garagoa</text></g>
<g id="ori-u25"><rect class="ub" x="900" y="1193" width="66" height="28"/><text class="tu sm" x="933" y="1207">U.B.Duitama</text></g>
<g id="ori-u26"><rect class="ub" x="810" y="1234" width="66" height="30"/><text class="tu sm"><tspan x="843" y="1243.5">U.B.</tspan><tspan x="843" y="1254.5">Sogamoso</tspan></text></g>
<g id="ori-u27"><rect class="ub" x="900" y="1235" width="66" height="28"/><text class="tu sm" x="933" y="1249">U.B. Soatá</text></g>

<!-- Suroccidente -->
<g id="soc-g1"><rect class="or" x="997" y="124" width="108" height="46"/><text class="to"><tspan x="1051" y="136">Grupo Regional</tspan><tspan x="1051" y="147">Administrativo y</tspan><tspan x="1051" y="158">Financiero</tspan></text></g>
<g id="soc-g2"><rect class="or" x="997" y="181" width="108" height="46"/><text class="to"><tspan x="1051" y="193">Grupo Regional</tspan><tspan x="1051" y="204">Clínica, Psiquiatría y</tspan><tspan x="1051" y="215">Psicología Forenses</tspan></text></g>
<g id="soc-g3"><rect class="or" x="997" y="238" width="108" height="46"/><text class="to"><tspan x="1051" y="255.5">Grupo Regional de</tspan><tspan x="1051" y="266.5">Patología Forense</tspan></text></g>
<g id="soc-g4"><rect class="or" x="997" y="295" width="108" height="46"/><text class="to"><tspan x="1051" y="312.5">Grupo Regional de</tspan><tspan x="1051" y="323.5">Ciencias Forenses</tspan></text></g>
<g id="soc-s1"><rect class="sec" x="988" y="350" width="128" height="45"/><text class="ts"><tspan x="1052" y="363.5">Seccional Valle</tspan><tspan class="tc" x="1052" y="381.5">(Cali)</tspan></text></g>
<g id="soc-u1"><rect class="ub" x="1010" y="404" width="80" height="28"/><text class="tu" x="1050" y="418">U.B. Cali</text></g>
<g id="soc-u2"><rect class="ub" x="1010" y="438" width="80" height="28"/><text class="tu" x="1050" y="452">U.B. URI</text></g>
<g id="soc-u3"><rect class="ub" x="1010" y="478" width="80" height="28"/><text class="tu" x="1050" y="492">U.B. Siloé</text></g>
<g id="soc-u4"><rect class="ub" x="1010" y="509" width="80" height="28"/><text class="tu"><tspan x="1050" y="517.5">U.B. Agua</tspan><tspan x="1050" y="528.5">Blanca</tspan></text></g>
<g id="soc-u5"><rect class="ub" x="1010" y="549" width="80" height="28"/><text class="tu"><tspan x="1050" y="557.5">U.B. Alfonso</tspan><tspan x="1050" y="568.5">López</tspan></text></g>
<g id="soc-u6"><rect class="ub" x="1010" y="581" width="80" height="28"/><text class="tu" x="1050" y="595">U.B. Yumbo</text></g>
<g id="soc-u7"><rect class="ub" x="1010" y="616" width="80" height="28"/><text class="tu"><tspan x="1050" y="624.5">U.B. Sevilla</tspan><tspan x="1050" y="635.5">Caicedonia</tspan></text></g>
<g id="soc-u8"><rect class="ub" x="1010" y="651" width="80" height="28"/><text class="tu" x="1050" y="665">U.B. Palmira</text></g>
<g id="soc-u9"><rect class="ub" x="1010" y="685" width="80" height="28"/><text class="tu"><tspan x="1050" y="693.5">U.B.</tspan><tspan x="1050" y="704.5">Buenaventura</tspan></text></g>
<g id="soc-u10"><rect class="ub" x="1010" y="718" width="80" height="28"/><text class="tu" x="1050" y="732">U.B. Buga</text></g>
<g id="soc-u11"><rect class="ub" x="1010" y="752" width="80" height="28"/><text class="tu" x="1050" y="766">U.B. Roldanillo</text></g>
<g id="soc-u12"><rect class="ub" x="1010" y="784" width="80" height="28"/><text class="tu" x="1050" y="798">U.B. Tuluá</text></g>
<g id="soc-u13"><rect class="ub" x="1010" y="818" width="80" height="28"/><text class="tu" x="1050" y="832">U.B. Jamundí</text></g>
<g id="soc-s2"><rect class="sec" x="988" y="907" width="128" height="45"/><text class="ts"><tspan x="1052" y="920.5">Seccional Nariño</tspan><tspan class="tc" x="1052" y="938.5">(Pasto)</tspan></text></g>
<g id="soc-u14"><rect class="ub" x="1010" y="966" width="80" height="28"/><text class="tu" x="1050" y="980">U.B. Pasto</text></g>
<g id="soc-u15"><rect class="ub" x="1010" y="1001" width="80" height="28"/><text class="tu" x="1050" y="1015">U.B. Túquerres</text></g>
<g id="soc-u16"><rect class="ub" x="1010" y="1037" width="80" height="28"/><text class="tu" x="1050" y="1051">U.B. Ipiales</text></g>
<g id="soc-u17"><rect class="ub" x="1010" y="1072" width="80" height="28"/><text class="tu" x="1050" y="1086">U.B. Tumaco</text></g>
<g id="soc-s3"><rect class="sec" x="988" y="1150" width="128" height="46"/><text class="ts"><tspan x="1052" y="1164">Seccional Cauca</tspan><tspan x="1052" y="1182">(Popayán)</tspan></text></g>
<g id="soc-u18"><rect class="ub" x="1010" y="1208" width="80" height="29"/><text class="tu"><tspan x="1050" y="1217">U.B.</tspan><tspan x="1050" y="1228">Popayán</tspan></text></g>
<g id="soc-u19"><rect class="ub" x="1010" y="1243" width="80" height="29"/><text class="tu"><tspan x="1050" y="1252">U.B.</tspan><tspan x="1050" y="1263">El Bordó</tspan></text></g>
<g id="soc-u20"><rect class="ub" x="1010" y="1282" width="80" height="30"/><text class="tu"><tspan x="1050" y="1291.5">U.B. Santander</tspan><tspan x="1050" y="1302.5">De Quilichao</tspan></text></g>

<!-- Sur -->
<g id="sur-g1"><rect class="or" x="1145" y="124" width="110" height="46"/><text class="to"><tspan x="1200" y="136">Grupo Regional</tspan><tspan x="1200" y="147">Administrativo y</tspan><tspan x="1200" y="158">Financiero</tspan></text></g>
<g id="sur-g2"><rect class="or" x="1145" y="181" width="110" height="46"/><text class="to"><tspan x="1200" y="193">Grupo Regional</tspan><tspan x="1200" y="204">Clínica, Psiquiatría y</tspan><tspan x="1200" y="215">Psicología Forenses</tspan></text></g>
<g id="sur-g3"><rect class="or" x="1145" y="238" width="110" height="46"/><text class="to"><tspan x="1200" y="255.5">Grupo Regional de</tspan><tspan x="1200" y="266.5">Patología Forense</tspan></text></g>
<g id="sur-g4"><rect class="or" x="1145" y="295" width="110" height="46"/><text class="to"><tspan x="1200" y="312.5">Grupo Regional de</tspan><tspan x="1200" y="323.5">Ciencias Forenses</tspan></text></g>
<g id="sur-u1"><rect class="ub" x="1160" y="352" width="80" height="28"/><text class="tu" x="1200" y="366">U.B. Neiva</text></g>
<g id="sur-u2"><rect class="ub" x="1160" y="391" width="80" height="28"/><text class="tu" x="1200" y="405">U.B. Garzón</text></g>
<g id="sur-u3"><rect class="ub" x="1160" y="425" width="80" height="28"/><text class="tu" x="1200" y="439">U.B. La Plata</text></g>
<g id="sur-u4"><rect class="ub" x="1160" y="463" width="80" height="28"/><text class="tu" x="1200" y="477">U.B. Pitalito</text></g>
<g id="sur-s1"><rect class="sec" x="1137" y="538" width="120" height="45"/><text class="ts"><tspan x="1197" y="551.5">Seccional Tolima</tspan><tspan class="tc" x="1197" y="569.5">(Ibagué)</tspan></text></g>
<g id="sur-u5"><rect class="ub" x="1160" y="595" width="80" height="28"/><text class="tu" x="1200" y="609">U.B. Ibagué</text></g>
<g id="sur-u6"><rect class="ub" x="1160" y="632" width="80" height="28"/><text class="tu" x="1200" y="646">U.B. Chaparral</text></g>
<g id="sur-u7"><rect class="ub" x="1160" y="668" width="80" height="28"/><text class="tu" x="1200" y="682">U.B. Espinal</text></g>
<g id="sur-u8"><rect class="ub" x="1160" y="703" width="80" height="28"/><text class="tu" x="1200" y="717">U.B. Honda</text></g>
<g id="sur-s2"><rect class="sec" x="1137" y="782" width="120" height="45"/><text class="ts"><tspan x="1197" y="795.5">Seccional Caquetá</tspan><tspan class="tc" x="1197" y="813.5">(Florencia)</tspan></text></g>
<g id="sur-u9"><rect class="ub" x="1160" y="833" width="80" height="30"/><text class="tu"><tspan x="1200" y="842.5">U.B.</tspan><tspan x="1200" y="853.5">Florencia</tspan></text></g>
<g id="sur-u10"><rect class="ub" x="1160" y="872" width="80" height="32"/><text class="tu"><tspan x="1200" y="882.5">U.B. San Vicente</tspan><tspan x="1200" y="893.5">del Caguán</tspan></text></g>
<g id="sur-s3"><rect class="sec" x="1135" y="968" width="125" height="45"/><text class="ts"><tspan x="1197" y="981.5">Seccional Putumayo</tspan><tspan class="tc" x="1197" y="999.5">(Mocoa)</tspan></text></g>
<g id="sur-u11"><rect class="ub" x="1160" y="1024" width="80" height="31"/><text class="tu"><tspan x="1200" y="1034">U.B.</tspan><tspan x="1200" y="1045">Mocoa</tspan></text></g>
<g id="sur-u12"><rect class="ub" x="1160" y="1062" width="80" height="32"/><text class="tu"><tspan x="1200" y="1072.5">U.B.Valle</tspan><tspan x="1200" y="1083.5">del Guamuez</tspan></text></g>
<g id="sur-u13"><rect class="ub" x="1160" y="1104" width="80" height="30"/><text class="tu"><tspan x="1200" y="1113.5">U.B.</tspan><tspan x="1200" y="1124.5">Puerto Asís</tspan></text></g>
</svg>
